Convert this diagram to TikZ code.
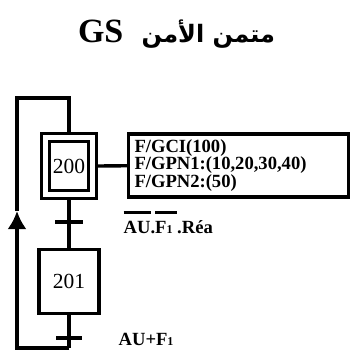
\documentclass[tikz,border=0pt]{standalone}
\usepackage{fontspec}
\setmainfont{Liberation Serif}
\newfontfamily\arabicfont[Script=Arabic]{DejaVu Sans}
\TeXXeTstate=1
\usetikzlibrary{arrows.meta}

% bar over a negated input
\newcommand\obar[1]{\setbox0\hbox{#1}\rlap{\rule[19pt]{\wd0}{3pt}}\box0}
\newcommand\idx[1]{{\fontsize{12}{12}\selectfont #1}}

\begin{document}
\begin{tikzpicture}[x=1pt,y=-1pt,line width=3.3pt,
  stepbox/.style={draw,minimum width=60pt,minimum height=64pt,inner sep=0pt,font=\fontsize{21.5}{21.5}\selectfont},
  initstep/.style={draw,double,double distance=4.6pt,minimum width=46.5pt,minimum height=57.5pt,inner sep=0pt,outer sep=5.6pt,font=\fontsize{21.5}{21.5}\selectfont},
  trans/.style={fill,minimum width=28pt,minimum height=3.5pt,inner sep=0pt},
  actbox/.style={draw,minimum width=220pt,minimum height=63pt,text width=208pt,inner xsep=6pt,align=left,font=\bfseries\fontsize{18.6}{17.5}\selectfont},
  recep/.style={anchor=base west,inner sep=0pt,font=\bfseries\fontsize{18.6}{18.6}\selectfont}]
  \useasboundingbox (0,0) rectangle (353,351);

  \node[anchor=base,inner sep=0pt] (title) at (176.5,42)
    {\bfseries\arabicfont\fontsize{24}{24}\selectfont\beginR متمن الأمن\hspace{10pt} \beginL{\rmfamily\fontsize{34}{34}\selectfont GS}\endL\endR};

  \node[initstep] (s200) at (69,166) {200};
  \node[trans] (t1) at (69,222) {};
  \node[stepbox] (s201) at (69,281.5) {201};
  \node[trans,minimum width=26pt] (t2) at (69,338) {};
  \node[actbox] (act) at (238.5,165.5) {F/GCI(100)\\F/GPN1:(10,20,30,40)\\F/GPN2:(50)};

  \node[recep] (r1) at (122,233) {\obar{AU}.\obar{F\idx{1}\ }.Réa};
  \node[recep] (r2) at (117,345) {AU+F\idx{1}};

  \coordinate (top) at (69,98);
  \coordinate (bot) at (69,348);
  \coordinate (up) at (17,211);

  \draw (s200) -- (act);
  \draw (s200.south) -- (t1.center) -- (s201.north);
  \draw (s201.south) -- (t2.center) -- (bot);
  \draw[-{Latex[length=18pt,width=19pt]}] (bot) -| (up);
  \draw (up) |- (top) -- (s200.north);
\end{tikzpicture}
\end{document}
